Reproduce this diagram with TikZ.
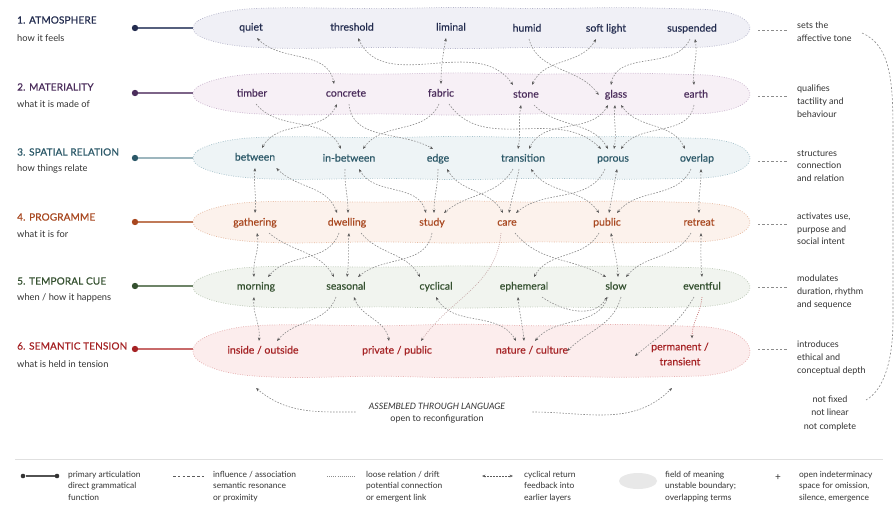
\documentclass[tikz,border=0pt]{standalone}
\usepackage{fontspec}
\setmainfont{Lato}
\newfontfamily\medfont{Lato}[FakeBold=0.35]
\newfontfamily\titlefont{Lato}[FakeBold=0.6, LetterSpace=1.5]
\usetikzlibrary{arrows.meta,calc,shapes.geometric}

% layer colours: ink / field fill / field outline / articulation line
\definecolor{inkA}{HTML}{232C4F}\definecolor{fillA}{HTML}{F0F0F6}\definecolor{edgeA}{HTML}{B4B4CA}\definecolor{linkA}{HTML}{56607E}
\definecolor{inkB}{HTML}{4B2D5C}\definecolor{fillB}{HTML}{F7F0F6}\definecolor{edgeB}{HTML}{C8B2CC}\definecolor{linkB}{HTML}{7D6488}
\definecolor{inkC}{HTML}{2B5868}\definecolor{fillC}{HTML}{EEF4F6}\definecolor{edgeC}{HTML}{A6C2CB}\definecolor{linkC}{HTML}{9DB6BE}
\definecolor{inkD}{HTML}{A8471F}\definecolor{fillD}{HTML}{FCF2EC}\definecolor{edgeD}{HTML}{E6B9A0}\definecolor{linkD}{HTML}{C07A58}
\definecolor{inkE}{HTML}{34502F}\definecolor{fillE}{HTML}{F1F4EF}\definecolor{edgeE}{HTML}{BAC7B4}\definecolor{linkE}{HTML}{6E8468}
\definecolor{inkF}{HTML}{A52224}\definecolor{fillF}{HTML}{FCEDED}\definecolor{edgeF}{HTML}{E6AEAE}\definecolor{linkF}{HTML}{C86A6A}
\definecolor{note}{HTML}{333333}
\definecolor{wire}{HTML}{8C8C8C}
\definecolor{tip}{HTML}{555555}

% one wobbly field of meaning: centre y, half height, fill, outline
\newcommand\fieldband[4]{%
  \draw[#4, line width=0.7pt, dash pattern=on 0.8pt off 1.6pt, fill=#3]
    plot[smooth cycle, tension=0.6] coordinates {
      (193,{#1}) (198,{#1-0.36*#2}) (213,{#1-0.66*#2}) (233,{#1-0.87*#2})
      (258,{#1-0.98*#2}) (300,{#1-1.01*#2}) (380,{#1-0.97*#2}) (460,{#1-1.03*#2})
      (540,{#1-0.97*#2}) (620,{#1-1.02*#2}) (690,{#1-0.95*#2}) (712,{#1-0.9*#2})
      (732,{#1-0.72*#2}) (745,{#1-0.4*#2}) (750,{#1+0.02*#2}) (745,{#1+0.42*#2})
      (731,{#1+0.74*#2}) (711,{#1+0.92*#2}) (690,{#1+0.97*#2}) (620,{#1+1.01*#2})
      (540,{#1+0.97*#2}) (460,{#1+1.03*#2}) (380,{#1+0.97*#2}) (300,{#1+1.02*#2})
      (258,{#1+0.97*#2}) (233,{#1+0.86*#2}) (213,{#1+0.66*#2}) (198,{#1+0.36*#2})};
}

\tikzset{
  word/.style={font=\medfont\fontsize{10.5}{12}\selectfont, text height=7.5pt, text depth=2.2pt, inner xsep=3pt, inner ysep=5pt},
  wordtwo/.style={font=\medfont\fontsize{10.5}{15}\selectfont, align=center, inner sep=4pt},
  ttl/.style={font=\titlefont\fontsize{10}{12}\selectfont, anchor=west, inner sep=0pt},
  sub/.style={font=\fontsize{9.3}{11}\selectfont, anchor=west, inner sep=0pt, text=note},
  annot/.style={font=\fontsize{9}{12.6}\selectfont, align=left, anchor=north west, inner sep=0pt, text=note},
  legtxt/.style={font=\fontsize{8.4}{11.5}\selectfont, align=left, anchor=north west, inner sep=0pt, text=note},
  linkdot/.style={circle, inner sep=0pt, minimum size=6.4pt},
  artic/.style={line width=1.3pt},
  conn/.style={draw=wire, line width=0.6pt, dash pattern=on 1.6pt off 1.4pt,
    -{Stealth[length=3.4pt,width=2.7pt,color=tip]}},
  biconn/.style={conn, {Stealth[length=3.4pt,width=2.7pt,color=tip]}-{Stealth[length=3.4pt,width=2.7pt,color=tip]}},
  drift/.style={draw=#1, line width=0.6pt, dash pattern=on 0.9pt off 1.3pt,
    -{Stealth[length=3.4pt,width=2.7pt,color=tip]}},
  shortdash/.style={draw=wire, line width=0.6pt, dash pattern=on 2.4pt off 2pt},
}

\begin{document}
\begin{tikzpicture}[x=1pt, y=-1pt]
\fill[white] (0,0) rectangle (895,506);
\useasboundingbox (0,0) rectangle (895,506);

% ---------- fields ----------
\fieldband{28}{20}{fillA}{edgeA}
\fieldband{94}{20.5}{fillB}{edgeB}
\fieldband{158}{21}{fillC}{edgeC}
\fieldband{222}{20.5}{fillD}{edgeD}
\fieldband{287}{20.5}{fillE}{edgeE}
\fieldband{351}{26}{fillF}{edgeF}

% ---------- layer titles ----------
\node[ttl, text=inkA] (t1) at (17,20) {1. ATMOSPHERE};
\node[sub] (s1) at (17,38) {how it feels};
\node[ttl, text=inkB] (t2) at (17,87) {2. MATERIALITY};
\node[sub] (s2) at (17,104) {what it is made of};
\node[ttl, text=inkC] (t3) at (17,152) {3. SPATIAL RELATION};
\node[sub] (s3) at (17,169) {how things relate};
\node[ttl, text=inkD] (t4) at (17,217) {4. PROGRAMME};
\node[sub] (s4) at (17,234) {what it is for};
\node[ttl, text=inkE] (t5) at (17,281) {5. TEMPORAL CUE};
\node[sub] (s5) at (17,298) {when / how it happens};
\node[ttl, text=inkF] (t6) at (17,346) {6. SEMANTIC TENSION};
\node[sub] (s6) at (17,364) {what is held in tension};

% ---------- articulation lines ----------
\coordinate (b1w) at (193,28);  \coordinate (b1e) at (750,30);
\coordinate (b2w) at (193,94);  \coordinate (b2e) at (750,96);
\coordinate (b3w) at (193,158); \coordinate (b3e) at (750,161);
\coordinate (b4w) at (193,222); \coordinate (b4e) at (750,224);
\coordinate (b5w) at (193,286); \coordinate (b5e) at (750,287);
\coordinate (b6w) at (193,349); \coordinate (b6e) at (750,349);
\node[linkdot, fill=inkA] (d1) at (135,28) {};
\node[linkdot, fill=inkB] (d2) at (135,93) {};
\node[linkdot, fill=inkC] (d3) at (135,158) {};
\node[linkdot, fill=inkD] (d4) at (135,222) {};
\node[linkdot, fill=inkE] (d5) at (135,286) {};
\node[linkdot, fill=inkF] (d6) at (135,349) {};
\draw[artic, linkA] (d1) -- (d1 -| b1w);
\draw[artic, linkB] (d2) -- (d2 -| b2w);
\draw[artic, linkC] (d3) -- (d3 -| b3w);
\draw[artic, linkD] (d4) -- (d4 -| b4w);
\draw[artic, linkE] (d5) -- (d5 -| b5w);
\draw[artic, linkF] (d6) -- (d6 -| b6w);

% ---------- terms ----------
\begin{scope}[every node/.append style={word}]
\node[text=inkA] (quiet) at (251,28) {quiet};
\node[text=inkA] (threshold) at (352,28) {threshold};
\node[text=inkA] (liminal) at (451,28) {liminal};
\node[text=inkA] (humid) at (527,29) {humid};
\node[text=inkA] (softlight) at (606,29) {soft light};
\node[text=inkA] (suspended) at (692,29) {suspended};

\node[text=inkB] (timber) at (252,94) {timber};
\node[text=inkB] (concrete) at (346,94) {concrete};
\node[text=inkB] (fabric) at (441,94) {fabric};
\node[text=inkB] (stone) at (526,95) {stone};
\node[text=inkB] (glass) at (616,95) {glass};
\node[text=inkB] (earth) at (696,95) {earth};

\node[text=inkC] (between) at (255,158) {between};
\node[text=inkC] (inbetween) at (349,159) {in-between};
\node[text=inkC] (edge) at (438,159) {edge};
\node[text=inkC] (transition) at (523,159) {transition};
\node[text=inkC] (porous) at (613,159) {porous};
\node[text=inkC] (overlap) at (697,159) {overlap};

\node[text=inkD] (gathering) at (255,223) {gathering};
\node[text=inkD] (dwelling) at (347,223) {dwelling};
\node[text=inkD] (study) at (432,223) {study};
\node[text=inkD] (care) at (507,223) {care};
\node[text=inkD] (public) at (607,223) {public};
\node[text=inkD] (retreat) at (699,223) {retreat};

\node[text=inkE] (morning) at (256,287) {morning};
\node[text=inkE] (seasonal) at (346,287) {seasonal};
\node[text=inkE] (cyclical) at (436,287) {cyclical};
\node[text=inkE] (ephemeral) at (524,287) {ephemeral};
\node[text=inkE] (slow) at (616,287) {slow};
\node[text=inkE] (eventful) at (702,287) {eventful};

\node[text=inkF] (insideout) at (263,351) {inside / outside};
\node[text=inkF] (privpub) at (397,351) {private / public};
\node[text=inkF] (natcult) at (532,351) {nature / culture};
\end{scope}
\node[wordtwo, text=inkF] (permtrans) at (680,354) {permanent /\\ transient};

% ---------- relations: atmosphere / materiality ----------
\draw[biconn] ([xshift=6pt]quiet.south) to[out=-45,in=100] ([xshift=-12pt]concrete.north);
\draw[biconn] ([xshift=6pt]threshold.south) to[out=-65,in=125] ([xshift=-13pt]stone.north);
\draw[biconn] ([xshift=-5pt]liminal.south) to[out=-100,in=90] (fabric.north);
\draw[conn] ([xshift=2pt]humid.south) to[out=-75,in=125] ([xshift=-3pt]glass.west);
\draw[biconn] ([xshift=-10pt]softlight.south) to[out=-120,in=65] ([xshift=6pt]stone.north);
\draw[conn] ([xshift=-2pt]suspended.south) to[out=-115,in=80] ([xshift=-5pt]glass.north);
\draw[biconn] ([xshift=3pt]suspended.south) to[out=-80,in=95] ([xshift=-2pt]earth.north);

% ---------- materiality / spatial relation ----------
\draw[conn] ([xshift=4pt]timber.south) to[out=-50,in=115] ([xshift=-8pt]inbetween.north);
\draw[biconn] ([xshift=-9pt]concrete.south) to[out=-115,in=60] ([xshift=7pt]between.north);
\draw[conn] ([xshift=3pt]concrete.south) to[out=-85,in=150] ([xshift=-5pt]edge.north);
\draw[conn] ([xshift=-2pt]fabric.south) to[out=-115,in=55] ([xshift=14pt]inbetween.north);
\draw[conn] ([xshift=8pt]fabric.south) to[out=-55,in=135] ([xshift=-12pt]porous.north);
\draw[biconn] ([xshift=-5pt]stone.south) to[out=-100,in=80] ([xshift=-5pt]transition.north);
\draw[conn] ([xshift=8pt]stone.south) to[out=-45,in=120] ([xshift=-5pt]porous.north);
\draw[biconn] ([xshift=-8pt]glass.south) to[out=-120,in=65] ([xshift=6pt]transition.north);
\draw[biconn] ([xshift=-1pt]glass.south) to[out=-95,in=80] ([xshift=1pt]porous.north);
\draw[biconn] ([xshift=-12pt]overlap.north) to[out=115,in=-55] ([xshift=5pt]glass.south);
\draw[conn] ([xshift=-2pt]earth.south) to[out=-100,in=55] ([xshift=8pt]porous.north);

% ---------- spatial relation / programme ----------
\draw[biconn] (between.south) to[out=-95,in=85] (gathering.north);
\draw[biconn] ([xshift=-2pt]between.south east) to[out=-45,in=110] ([xshift=-10pt]dwelling.north);
\draw[conn] ([xshift=-4pt]inbetween.south) to[out=-92,in=90] ([xshift=1pt]dwelling.north);
\draw[biconn] ([xshift=10pt]inbetween.south) to[out=-60,in=105] ([xshift=-6pt]study.north);
\draw[conn] (edge.south) to[out=-90,in=90] ([xshift=2pt]study.north);
\draw[biconn] ([xshift=9pt]edge.south) to[out=-60,in=120] ([xshift=-4pt]care.north);
\draw[conn] ([xshift=-10pt]transition.south) to[out=-120,in=40] ([xshift=12pt]study.north);
\draw[conn] ([xshift=-4pt]transition.south) to[out=-100,in=80] ([xshift=2pt]care.north);
\draw[biconn] ([xshift=8pt]transition.south) to[out=-55,in=125] ([xshift=-8pt]public.north);
\draw[conn] ([xshift=-8pt]porous.south) to[out=-115,in=40] ([xshift=9pt]care.north);
\draw[biconn] ([xshift=4pt]porous.south) to[out=-100,in=80] ([xshift=2pt]public.north);
\draw[conn] ([xshift=-6pt]overlap.south) to[out=-115,in=50] ([xshift=10pt]public.north);
\draw[biconn] ([xshift=4pt]overlap.south) to[out=-90,in=92] (retreat.north);

% ---------- programme / temporal cue ----------
\draw[biconn] ([xshift=2pt]gathering.south) to[out=-80,in=95] ([xshift=-2pt]morning.north);
\draw[conn] ([xshift=14pt]gathering.south) to[out=-40,in=120] ([xshift=-12pt]seasonal.north);
\draw[conn] ([xshift=-8pt]dwelling.south) to[out=-110,in=50] ([xshift=12pt]morning.north);
\draw[biconn] ([xshift=2pt]dwelling.south) to[out=-95,in=82] ([xshift=1pt]seasonal.north);
\draw[conn] ([xshift=14pt]dwelling.south) to[out=-50,in=120] ([xshift=-16pt]cyclical.north);
\draw[conn] (study.south) to[out=-100,in=40] ([xshift=12pt]seasonal.north);
\draw[drift=edgeF!60!wire] ([xshift=-6pt]care.south) to[out=-95,in=55] ([xshift=24pt]privpub.north);
\draw[conn] ([xshift=8pt]care.south) to[out=-50,in=150] ([xshift=-10pt]slow.north);
\draw[conn] ([xshift=-8pt]public.south) to[out=-120,in=60] ([xshift=10pt]ephemeral.north);
\draw[biconn] ([xshift=4pt]public.south) to[out=-80,in=92] ([xshift=2pt]slow.north);
\draw[conn] ([xshift=-8pt]retreat.south) to[out=-120,in=50] ([xshift=10pt]slow.north);
\draw[biconn] ([xshift=2pt]retreat.south) to[out=-90,in=95] (eventful.north);

% ---------- temporal cue / semantic tension ----------
\draw[biconn] ([xshift=-2pt]morning.south) to[out=-95,in=85] ([xshift=-4pt]insideout.north);
\draw[conn] ([xshift=-10pt]seasonal.south) to[out=-110,in=50] ([xshift=14pt]insideout.north);
\draw[biconn] ([xshift=8pt]seasonal.south) to[out=-70,in=100] ([xshift=-8pt]privpub.north);
\draw[biconn] (cyclical.south) to[out=-60,in=120] ([xshift=-16pt]natcult.north);
\draw[biconn] ([xshift=-6pt]ephemeral.south) to[out=-85,in=95] ([xshift=-8pt]natcult.north);
\draw[conn] ([xshift=18pt]ephemeral.south) to[out=-35,in=-120] ([xshift=-9pt]slow.south);
\draw[conn] ([xshift=-8pt]slow.south) to[out=-110,in=50] ([xshift=3pt]natcult.north);
\draw[conn] ([xshift=5pt]slow.south) to[out=-105,in=45] ([xshift=-4pt]natcult.east);
\draw[conn] ([xshift=-8pt]eventful.south) to[out=-120,in=40] ([xshift=-12pt,yshift=-2pt]permtrans.west);
\draw[drift=inkF!70] (eventful.south) to[out=-95,in=90] ([xshift=12pt]permtrans.north);

% ---------- notes on the right ----------
\node[annot] (a1) at (797,22) {sets the\\affective tone};
\node[annot] (a2) at (797,85) {qualifies\\tactility and\\behaviour};
\node[annot] (a3) at (797,150) {structures\\connection\\and relation};
\node[annot] (a4) at (797,213) {activates use,\\purpose and\\social intent};
\node[annot] (a5) at (797,275) {modulates\\duration, rhythm\\and sequence};
\node[annot] (a6) at (797,341) {introduces\\ethical and\\conceptual depth};
\foreach \i in {1,...,6}{
  \draw[shortdash] ($(b\i e)+(8,0)$) -- ($(b\i e)+(37,0)$);
}

% the open return loop
\coordinate (loopTop) at (862,33);
\coordinate (loopBot) at (866,400);
\draw[shortdash, dash pattern=on 2pt off 1.8pt] (loopTop) .. controls (890,45) and (893,80) .. (893,130)
  -- (893,320) .. controls (893,360) and (884,390) .. (loopBot);
\node[font=\fontsize{9}{13.5}\selectfont, align=center, text=note, inner sep=0pt] (open) at (830,413)
  {not fixed\\not linear\\not complete};

% ---------- assembly ----------
\node[align=center, inner sep=0pt, text=note] (assembly) at (437,413)
  {{\fontsize{8.8}{14}\selectfont\itshape ASSEMBLED THROUGH LANGUAGE}\\{\fontsize{9}{12}\selectfont open to reconfiguration}};
\coordinate (fieldL) at (256,388);
\coordinate (fieldR) at (672,388);
\draw[conn] ([xshift=-13pt,yshift=1pt]assembly.west) to[out=180,in=-40] (fieldL);
\draw[conn] ([xshift=27pt,yshift=1pt]assembly.east) to[out=0,in=-135] (fieldR);

% ---------- legend ----------
\coordinate (ruleL) at (15,459);
\coordinate (ruleR) at (883,459);
\draw[draw=black!12, line width=0.6pt] (ruleL) -- (ruleR);

\node[circle, fill=note, inner sep=0pt, minimum size=4.6pt] (lgA1) at (23,476) {};
\node[circle, fill=note, inner sep=0pt, minimum size=4.6pt] (lgA2) at (57,476) {};
\draw[line width=1.2pt, draw=note!85] (lgA1) -- (lgA2);
\node[legtxt] (lgAt) at (68,471) {primary articulation\\direct grammatical\\function};

\coordinate (lgB1) at (173,476); \coordinate (lgB2) at (204,476);
\draw[draw=note!80, line width=0.7pt, dash pattern=on 2.6pt off 2.2pt] (lgB1) -- (lgB2);
\node[legtxt] (lgBt) at (213,471) {influence / association\\semantic resonance\\or proximity};

\coordinate (lgC1) at (327,476); \coordinate (lgC2) at (355,476);
\draw[draw=wire, line width=0.6pt, dash pattern=on 0.7pt off 1.4pt] (lgC1) -- (lgC2);
\node[legtxt] (lgCt) at (366,471) {loose relation / drift\\potential connection\\or emergent link};

\coordinate (lgD1) at (482,476); \coordinate (lgD2) at (513,476);
\draw[biconn, draw=note!80] (lgD1) -- (lgD2);
\node[legtxt] (lgDt) at (524,471) {cyclical return\\feedback into\\earlier layers};

\node[ellipse, fill=black!9, minimum width=38pt, minimum height=16pt, inner sep=0pt] (lgE) at (638,481) {};
\node[legtxt] (lgEt) at (665,471) {field of meaning\\unstable boundary;\\overlapping terms};

\node[font=\fontsize{10}{12}\selectfont, text=note, inner sep=0pt] (lgF) at (778,478) {+};
\node[legtxt] (lgFt) at (799,471) {open indeterminacy\\space for omission,\\silence, emergence};
\end{tikzpicture}
\end{document}
